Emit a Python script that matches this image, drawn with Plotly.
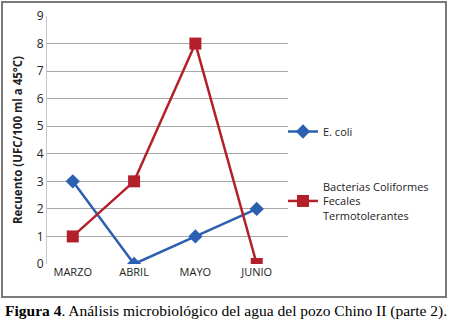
import plotly.graph_objects as go

months = ["MARZO", "ABRIL", "MAYO", "JUNIO"]
ecoli = [3, 0, 1, 2]
bacterias = [1, 3, 8, 0]
y_ticks = [0, 1, 2, 3, 4, 5, 6, 7, 8, 9]

L, R, T, B = 47, 162, 16, 61
W, H = 450, 325
pw, ph = W - L - R, H - T - B

def px(x):
    return (x - L) / pw

def py(y):
    return (H - B - y) / ph

fig = go.Figure()
fig.add_trace(go.Scatter(x=months, y=ecoli, name="E. coli", mode="lines+markers",
                         line=dict(color="#2b5fb0", width=2.5),
                         marker=dict(symbol="diamond", size=11, color="#2b5fb0"),
                         legendgroup="a"))
fig.add_trace(go.Scatter(x=months, y=bacterias,
                         name="Bacterias Coliformes<br>Fecales<br>Termotolerantes",
                         mode="lines+markers",
                         line=dict(color="#b3202a", width=2.5),
                         marker=dict(symbol="square", size=12, color="#b3202a"),
                         legendgroup="b"))

fig.update_layout(
    width=W, height=H,
    margin=dict(l=L, r=R, t=T, b=B, autoexpand=False),
    paper_bgcolor="white", plot_bgcolor="white",
    font=dict(family="Open Sans, Lato, sans-serif", size=11, color="#222"),
    legend=dict(x=px(283), y=py(117), xanchor="left", yanchor="top",
                tracegroupgap=37, font=dict(size=11, color="#222"),
                bgcolor="rgba(0,0,0,0)", itemwidth=30),
    xaxis=dict(showgrid=False, showline=False, ticks="", range=[-0.42, 3.51],
               tickfont=dict(size=11), automargin=False),
    yaxis=dict(range=[0, 9], tickvals=y_ticks, showgrid=True, gridcolor="#a8a8a8",
               gridwidth=1, zeroline=False, showline=True, linecolor="#c8c8c8",
               ticks="", tickfont=dict(size=12), automargin=False,
               title=dict(text="<b>Recuento (UFC/100 ml a 45°C)</b>",
                          font=dict(size=11.5), standoff=11)),
)

fig.add_shape(type="rect", xref="paper", yref="paper",
              x0=px(2), x1=px(446), y0=py(297), y1=py(2),
              line=dict(color="#7a7a7a", width=2), layer="below")

fig.add_annotation(xref="paper", yref="paper", x=px(226), y=py(311),
                   xanchor="center", yanchor="middle", showarrow=False,
                   text="<b>Figura 4</b>. Análisis microbiológico del agua del pozo Chino II (parte 2).",
                   font=dict(family="Liberation Serif, Times New Roman, serif", size=15.5, color="#000"))

fig.write_html("out.html", config={"displayModeBar": False},
               post_script="document.body.style.margin='0';")
